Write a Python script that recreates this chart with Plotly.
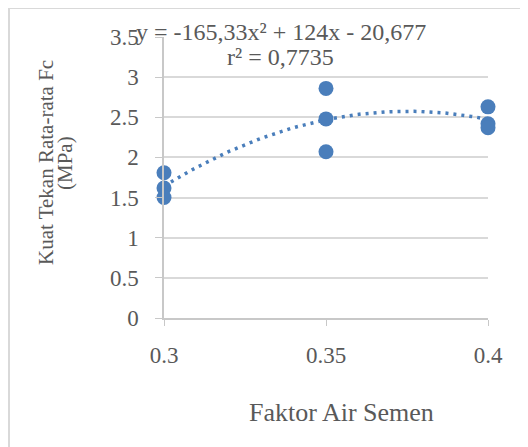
import numpy as np
import plotly.graph_objects as go

# Data
fas = [0.3, 0.3, 0.3, 0.35, 0.35, 0.35, 0.4, 0.4, 0.4]
fc = [1.81, 1.62, 1.50, 2.86, 2.48, 2.07, 2.63, 2.42, 2.37]
x_ticks = [0.3, 0.35, 0.4]
x_tick_labels = ["0.3", "0.35", "0.4"]
y_ticks = [0, 0.5, 1, 1.5, 2, 2.5, 3, 3.5]
y_tick_labels = ["0", "0.5", "1", "1.5", "2", "2.5", "3", "3.5"]
eq_text = "y = -165,33x² + 124x - 20,677"
r2_text = "r² = 0,7735"
x_title = "Faktor Air Semen"
y_title_1 = "Kuat Tekan Rata-rata Fc"
y_title_2 = "(MPa)"

BLUE = "#4a7ebb"
GRAY = "#595959"
FONT = "Liberation Serif, Times New Roman, serif"

# Polynomial trendline fitted from the data
coef = np.polyfit(fas, fc, 2)
xt = np.linspace(min(fas), max(fas), 80)
yt = np.polyval(coef, xt)

fig = go.Figure()
fig.add_trace(go.Scatter(x=xt, y=yt, mode="lines",
                         line=dict(color=BLUE, width=3.5, dash="3px,5px"),
                         hoverinfo="skip", showlegend=False, cliponaxis=False))
fig.add_trace(go.Scatter(x=fas, y=fc, mode="markers",
                         marker=dict(color=BLUE, size=15, line=dict(width=0)),
                         showlegend=False, cliponaxis=False))

OFF = 8  # page body margin
W, H = 528 - OFF, 447 - OFF
L, R, T, B = 164 - OFF, 528 - 488, 37 - OFF, 447 - 318
pw, ph = W - L - R, H - T - B


def px(xp):
    return (xp - OFF - L) / pw


def py(yp):
    return 1 - (yp - OFF - T) / ph


fig.update_layout(
    width=W, height=H,
    margin=dict(l=L, r=R, t=T, b=B),
    paper_bgcolor="white", plot_bgcolor="white",
    font=dict(family=FONT, color=GRAY, size=23),
    xaxis=dict(range=[0.3, 0.4], tickvals=x_ticks, ticktext=x_tick_labels,
               showgrid=False, zeroline=False, showline=True,
               linecolor="#c8c8c8", linewidth=1.5,
               ticks="outside", ticklen=6, tickcolor="#c8c8c8",
               ticklabelstandoff=10,
               tickfont=dict(family=FONT, size=23, color=GRAY)),
    yaxis=dict(range=[0, 3.5], tickvals=y_ticks, ticktext=y_tick_labels,
               showgrid=True, gridcolor="#d9d9d9", gridwidth=1.5,
               zeroline=False, showline=True, linecolor="#c8c8c8", linewidth=1.5,
               ticks="outside", ticklen=7, tickcolor="#c8c8c8",
               ticklabelstandoff=12,
               tickfont=dict(family=FONT, size=23, color=GRAY)),
    shapes=[
        dict(type="line", xref="paper", yref="paper",
             x0=px(8), x1=px(560), y0=py(8), y1=py(8),
             line=dict(color="#d9d9d9", width=2)),
        dict(type="line", xref="paper", yref="paper",
             x0=px(9), x1=px(9), y0=py(8), y1=py(480),
             line=dict(color="#d9d9d9", width=2)),
    ],
    annotations=[
        dict(text=eq_text, xref="paper", yref="paper",
             x=px(281), y=py(32), showarrow=False,
             xanchor="center", yanchor="middle",
             font=dict(family=FONT, size=24, color=GRAY)),
        dict(text=r2_text, xref="paper", yref="paper",
             x=px(280), y=py(57), showarrow=False,
             xanchor="center", yanchor="middle",
             font=dict(family=FONT, size=24, color=GRAY)),
        dict(text=x_title, xref="paper", yref="paper",
             x=px(341), y=py(412), showarrow=False,
             xanchor="center", yanchor="middle",
             font=dict(family=FONT, size=26, color=GRAY)),
        dict(text=y_title_1, xref="paper", yref="paper",
             x=px(46), y=py(163), showarrow=False, textangle=-90,
             xanchor="center", yanchor="middle",
             font=dict(family=FONT, size=21, color=GRAY)),
        dict(text=y_title_2, xref="paper", yref="paper",
             x=px(65), y=py(163), showarrow=False, textangle=-90,
             xanchor="center", yanchor="middle",
             font=dict(family=FONT, size=21, color=GRAY)),
    ],
)

fig.write_html("out.html")
